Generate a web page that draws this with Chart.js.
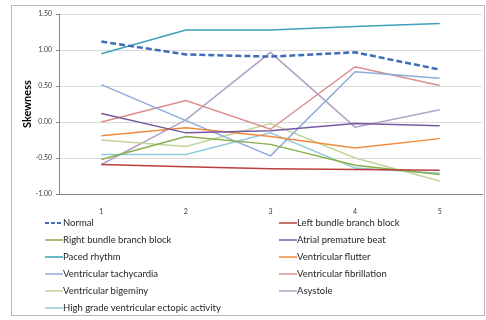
<!DOCTYPE html>
<html>
<head>
<meta charset="utf-8">
<script src="https://cdn.jsdelivr.net/npm/chart.js@4"></script>
<style>
  html, body { margin: 0; padding: 0; background: #fff; }
  body { width: 486px; height: 320px; position: relative; overflow: hidden; font-family: Lato, sans-serif; }
  #frame { position: absolute; left: 11px; top: 5px; width: 472px; height: 309px; border: 1px solid #b9b9b9; }
  #chart-box { position: absolute; left: 12px; top: 6px; width: 472px; height: 210px; }
  #legend { position: absolute; left: 45px; top: 214px; display: grid; grid-template-columns: 234px 200px; grid-auto-rows: 17px; }
  .item { display: flex; align-items: center; font-size: 9.5px; color: #262626; white-space: nowrap; }
  .item svg { width: 18px; height: 6px; flex: none; }
</style>
</head>
<body>
<div id="frame"></div>
<div id="chart-box"><canvas id="skew-chart"></canvas></div>
<div id="legend"></div>
<script>
const categories = ['1', '2', '3', '4', '5'];
const yTicks = [1.5, 1.0, 0.5, 0.0, -0.5, -1.0];

const normal          = [1.12, 0.94, 0.91, 0.97, 0.73];
const leftBundle      = [-0.59, -0.62, -0.65, -0.66, -0.67];
const rightBundle     = [-0.52, -0.20, -0.31, -0.60, -0.73];
const atrialPremature = [0.12, -0.15, -0.12, -0.02, -0.05];
const pacedRhythm     = [0.95, 1.28, 1.28, 1.33, 1.37];
const ventFlutter     = [-0.19, -0.08, -0.20, -0.36, -0.23];
const ventTachy       = [0.52, 0.02, -0.47, 0.70, 0.61];
const ventFib         = [0.00, 0.30, -0.10, 0.77, 0.51];
const ventBigeminy    = [-0.25, -0.34, -0.02, -0.50, -0.82];
const asystole        = [-0.59, 0.03, 0.97, -0.07, 0.17];
const highGrade       = [-0.45, -0.45, -0.15, -0.64, -0.71];

const seriesNames = [
  'Normal', 'Left bundle branch block', 'Right bundle branch block', 'Atrial premature beat',
  'Paced rhythm', 'Ventricular flutter', 'Ventricular tachycardia', 'Ventricular fibrillation',
  'Ventricular bigeminy', 'Asystole', 'High grade ventricular ectopic activity'
];
const seriesValues = [normal, leftBundle, rightBundle, atrialPremature, pacedRhythm, ventFlutter,
  ventTachy, ventFib, ventBigeminy, asystole, highGrade];
const seriesColors = ['#3d6db5', '#b8413f', '#8aae4b', '#7459a0', '#3ea0ba', '#f08a3c',
  '#8eaadb', '#da8f8d', '#c0d69a', '#b3a2c7', '#8fcbdd'];

const datasets = seriesNames.map((name, i) => ({
  label: name,
  data: seriesValues[i],
  borderColor: seriesColors[i],
  backgroundColor: seriesColors[i],
  borderWidth: i === 0 ? 2.5 : 1.5,
  borderDash: i === 0 ? [6, 3] : [],
  pointRadius: 0,
  tension: 0,
  fill: false,
}));

const chart = new Chart(document.getElementById('skew-chart'), {
  type: 'line',
  data: { labels: categories, datasets: datasets },
  options: {
    responsive: true,
    maintainAspectRatio: false,
    animation: false,
    layout: { padding: { top: 2, right: 2, left: 0, bottom: 0 } },
    plugins: { legend: { display: false }, tooltip: { enabled: false } },
    scales: {
      x: {
        offset: true,
        grid: { display: false },
        border: { display: true, color: '#868686', width: 1 },
        ticks: { color: '#404040', font: { family: 'Lato', size: 7 }, padding: 6 },
        afterFit: (s) => { s.height = 22; },
      },
      y: {
        min: -1, max: 1.5,
        afterBuildTicks: (s) => { s.ticks = yTicks.map(v => ({ value: v })); },
        grid: { color: '#d9d9d9', tickLength: 3, tickColor: '#868686' },
        border: { display: true, color: '#868686', width: 1 },
        ticks: {
          color: '#404040', font: { family: 'Lato', size: 7 }, padding: 4,
          callback: (v) => Number(v).toFixed(2),
        },
        title: { display: true, text: 'Skewness', color: '#000', font: { family: 'Lato', size: 11, weight: 'bold' }, padding: { top: 9, bottom: 0 } },
        afterFit: (s) => { s.width = 47; },
      },
    },
  },
});

// legend in two columns, built from the chart datasets
const legendEl = document.getElementById('legend');
chart.data.datasets.forEach((ds) => {
  const item = document.createElement('div');
  item.className = 'item';
  const dash = ds.borderDash.length ? ' stroke-dasharray="4 2"' : '';
  item.innerHTML = '<svg viewBox="0 0 18 6"><line x1="0" y1="3" x2="18" y2="3" stroke="' + ds.borderColor +
    '" stroke-width="' + (ds.borderDash.length ? 2 : 1.5) + '"' + dash + '/></svg><span>' + ds.label + '</span>';
  legendEl.appendChild(item);
});
</script>
</body>
</html>
